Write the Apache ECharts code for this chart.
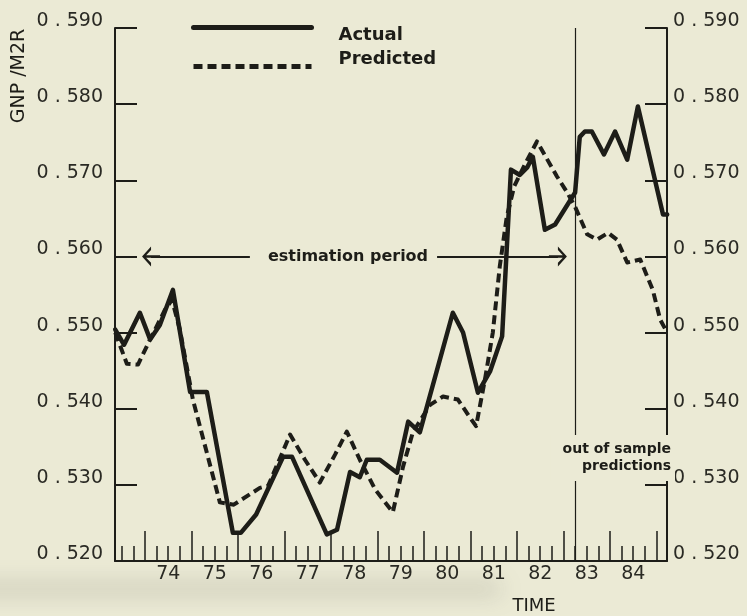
<!DOCTYPE html>
<html>
<head>
<meta charset="utf-8">
<script src="https://cdn.jsdelivr.net/npm/echarts@6/dist/echarts.min.js"></script>
<style>
  html, body { margin: 0; padding: 0; background: #ebead5; }
  #chart { width: 747px; height: 616px; }
</style>
</head>
<body>
<div id="chart"></div>
<script>
// Time is in decimal years (74.0 = start of 1974); values are GNP/M2R ratios.
const actualTime = [73.36, 73.55, 73.89, 74.11, 74.32, 74.60, 74.97, 75.33, 75.89, 76.06,
  76.39, 76.97, 77.16, 77.91, 78.13, 78.41, 78.62, 78.77, 79.05, 79.42,
  79.66, 79.91, 80.62, 80.84, 81.16, 81.42, 81.68, 81.87, 82.06, 82.22,
  82.34, 82.60, 82.82, 83.25, 83.35, 83.46, 83.61, 83.87, 84.11, 84.37,
  84.60, 85.14, 85.23];
const actualValue = [0.5504, 0.5484, 0.5526, 0.5491, 0.5510, 0.5556, 0.5422, 0.5422, 0.5237, 0.5237,
  0.5261, 0.5337, 0.5337, 0.5235, 0.5241, 0.5317, 0.5310, 0.5333, 0.5333, 0.5316,
  0.5383, 0.5369, 0.5526, 0.5500, 0.5421, 0.5449, 0.5495, 0.5714, 0.5707, 0.5717,
  0.5731, 0.5635, 0.5642, 0.5684, 0.5757, 0.5764, 0.5764, 0.5734, 0.5764, 0.5727,
  0.5797, 0.5655, 0.5655];

const predictedTime = [73.36, 73.61, 73.85, 74.11, 74.43, 74.58, 74.75, 75.03, 75.61, 75.91,
  76.47, 76.65, 77.12, 77.44, 77.76, 78.09, 78.34, 78.62, 78.95, 79.33,
  79.55, 79.76, 80.13, 80.41, 80.73, 80.95, 81.12, 81.31, 81.48, 81.63,
  81.78, 81.94, 82.17, 82.43, 82.86, 83.08, 83.25, 83.51, 83.72, 83.96,
  84.15, 84.37, 84.65, 84.92, 85.08, 85.23];
const predictedValue = [0.5500, 0.5459, 0.5458, 0.5491, 0.5530, 0.5543, 0.5504, 0.5412, 0.5277, 0.5274,
  0.5296, 0.5299, 0.5366, 0.5333, 0.5303, 0.5340, 0.5370, 0.5333, 0.5294, 0.5264,
  0.5324, 0.5369, 0.5405, 0.5416, 0.5412, 0.5392, 0.5377, 0.5438, 0.5500, 0.5587,
  0.5652, 0.5692, 0.5721, 0.5751, 0.5705, 0.5684, 0.5665, 0.5629, 0.5622, 0.5631,
  0.5622, 0.5592, 0.5596, 0.5556, 0.5517, 0.5500];

const yearLabels = ['74', '75', '76', '77', '78', '79', '80', '81', '82', '83', '84'];
const firstYear = 74;
const valueMin = 0.52, valueMax = 0.59, valueStep = 0.01;
const timeMin = 73.355, timeMax = 85.226;
const estimationStart = 74.13, estimationEnd = 82.88, estimationLevel = 0.56;
const sampleEnd = 83.25;

const INK = '#1d1d18';
const PAPER = '#ebead5';
const FONT = 'DejaVu Sans';

// quarter ticks, year ticks and mid-year label positions
const quarterTicks = [];
for (let k = 0; 73.5 + k * 0.25 <= 85.0001; k++) quarterTicks.push(+(73.5 + k * 0.25).toFixed(2));
const yearTicks = [];
for (let y = firstYear; y <= firstYear + yearLabels.length; y++) yearTicks.push(y);
const labelPositions = yearLabels.map((_, i) => firstYear + i + 0.5);

const fmtValue = v => v.toFixed(3).replace('.', ' . ');

// open arrow head with a short shaft; tip points "up" before rotation
const arrowHead = 'path://M5,0 L10,10 L8.2,10 L5.6,4.6 L5.6,20 L4.4,20 L4.4,4.6 L1.8,10 L0,10 Z';

const chart = echarts.init(document.getElementById('chart'), null, { renderer: 'canvas' });

const yAxisBase = side => ({
  type: 'value', position: side, min: valueMin, max: valueMax, interval: valueStep,
  axisLine: { show: true, lineStyle: { color: INK, width: 2 } },
  axisTick: { show: true, inside: true, length: 22, lineStyle: { color: INK, width: 2 } },
  axisLabel: {
    formatter: fmtValue, margin: side === 'left' ? 12 : 6, fontSize: 19, color: '#2a2a24',
    fontFamily: FONT, verticalAlign: 'bottom', lineHeight: 14
  },
  splitLine: { show: false }
});

const legendBase = (name, top, fmt) => ({
  data: [name], left: 191, top: top, padding: 0, itemWidth: 118, itemHeight: 14,
  lineStyle: { width: 5 },
  itemStyle: { opacity: 0, borderWidth: 0 },
  formatter: fmt,
  textStyle: { fontWeight: 'bold', fontSize: 18, color: INK, lineHeight: 15, padding: [0, 0, 0, 22] }
});

chart.setOption({
  animation: false,
  backgroundColor: PAPER,
  textStyle: { fontFamily: FONT },
  grid: { left: 115, right: 80, top: 28, bottom: 55, containLabel: false },
  legend: [
    legendBase('Actual', 11, n => '\n' + n),
    legendBase('Predicted', 50, n => n + '\n')
  ],
  xAxis: [
    {
      type: 'value', min: timeMin, max: timeMax, position: 'bottom',
      axisLine: { show: true, onZero: false, lineStyle: { color: INK, width: 2 } },
      axisTick: { show: true, inside: true, length: 15, customValues: quarterTicks, lineStyle: { color: INK, width: 1.5 } },
      axisLabel: { show: false },
      splitLine: { show: false }
    },
    {
      type: 'value', min: timeMin, max: timeMax, position: 'bottom',
      axisLine: { show: false, onZero: false },
      axisTick: { show: true, inside: true, length: 30, customValues: yearTicks, lineStyle: { color: INK, width: 1.5 } },
      axisLabel: {
        show: true, customValues: labelPositions, margin: 4, fontSize: 19, color: '#2a2a24', fontFamily: FONT,
        formatter: v => yearLabels[Math.round(v - 0.5) - firstYear]
      },
      splitLine: { show: false }
    }
  ],
  yAxis: [yAxisBase('left'), yAxisBase('right')],
  series: [
    {
      name: 'Actual', type: 'line', xAxisIndex: 0, yAxisIndex: 0, z: 3,
      data: actualTime.map((t, i) => [t, actualValue[i]]),
      symbol: 'none',
      lineStyle: { color: INK, width: 4.5, join: 'round', cap: 'round' },
      itemStyle: { color: INK },
      markLine: {
        silent: true, animation: false,
        symbol: ['none', 'none'],
        lineStyle: { color: INK, width: 2, type: 'solid' },
        data: [
          [
            {
              coord: [estimationStart, estimationLevel], symbol: arrowHead, symbolSize: [20, 18],
              label: {
                show: true, position: 'middle', formatter: 'estimation period',
                align: 'center', verticalAlign: 'middle', distance: 0, offset: [-11, 0],
                color: INK, fontWeight: 'bold', fontSize: 16, fontFamily: FONT,
                backgroundColor: PAPER, padding: [3, 9, 3, 18]
              }
            },
            { coord: [estimationEnd, estimationLevel], symbol: arrowHead, symbolSize: [20, 18] }
          ],
          {
            xAxis: sampleEnd, symbol: 'none',
            lineStyle: { color: INK, width: 1.2, type: 'solid' },
            label: { show: false }
          }
        ]
      }
    },
    {
      name: 'Predicted', type: 'line', xAxisIndex: 0, yAxisIndex: 0, z: 2,
      data: predictedTime.map((t, i) => [t, predictedValue[i]]),
      symbol: 'none',
      lineStyle: { color: INK, width: 4, type: [9, 5], join: 'round' },
      itemStyle: { color: INK }
    }
  ],
  graphic: [
    {
      // soft grey haze along the lower edge of the page
      type: 'rect', z: -10, silent: true,
      shape: { x: -40, y: -200, width: 540, height: 8 },
      style: {
        fill: 'rgb(110,110,100)',
        shadowBlur: 22, shadowColor: 'rgba(110,110,100,0.4)', shadowOffsetY: 785
      }
    },
    {
      type: 'text', z: 100, x: 19, y: 76, rotation: Math.PI / 2,
      style: { text: 'GNP /M2R', fontSize: 19, fontFamily: FONT, fill: INK, align: 'center', verticalAlign: 'middle' }
    },
    {
      type: 'text', z: 100, x: 534, y: 606,
      style: { text: 'TIME', fontSize: 18, fontFamily: FONT, fill: INK, align: 'center', verticalAlign: 'middle' }
    },
    {
      type: 'text', z: 100, x: 675, y: 435,
      style: {
        text: 'out of sample\npredictions', fontSize: 14, fontWeight: 'bold', fontFamily: FONT,
        fill: INK, align: 'right', verticalAlign: 'top', lineHeight: 17,
        backgroundColor: PAPER, padding: [6, 4, 6, 12]
      }
    }
  ]
});
</script>
</body>
</html>
